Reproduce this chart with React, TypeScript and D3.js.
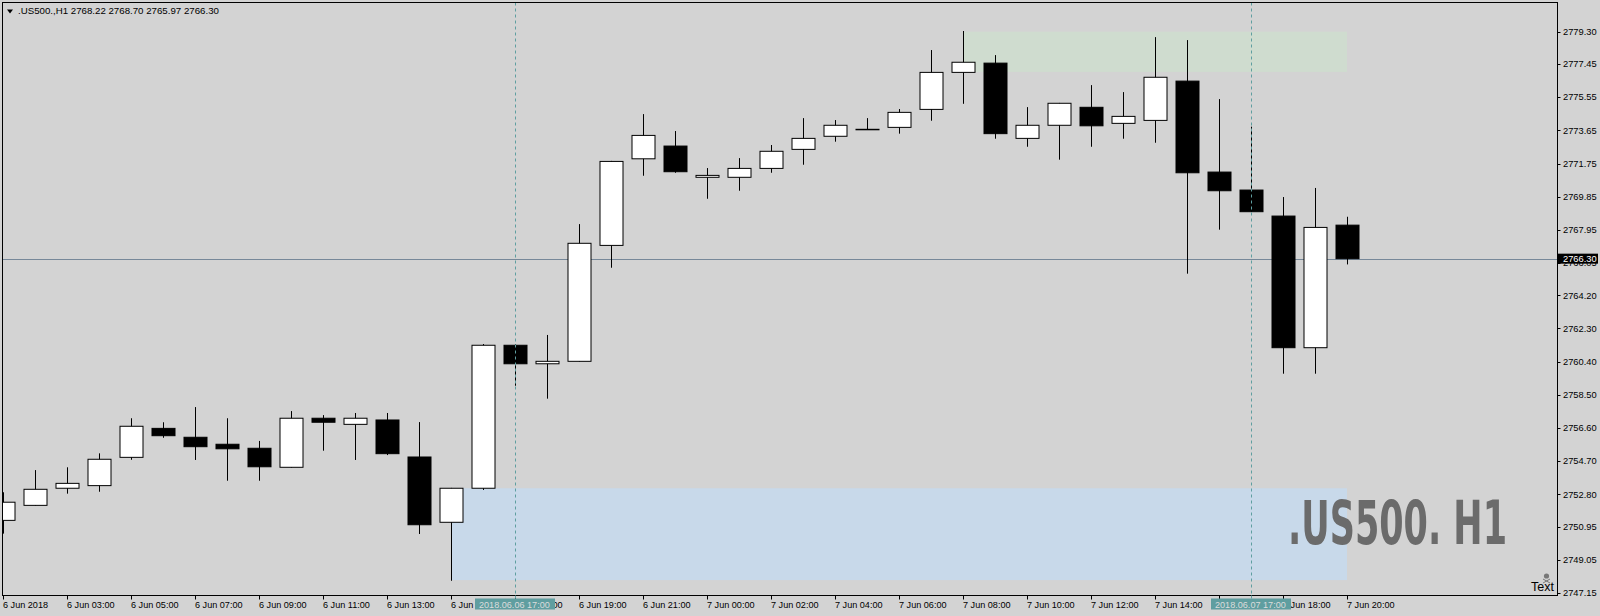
import React from "react";
import * as d3 from "d3";

const opens = [2751.31, 2752.17, 2753.15, 2753.30, 2754.92, 2756.58, 2756.07, 2755.67, 2755.44, 2754.35, 2757.16, 2756.81, 2757.06, 2754.94, 2751.20, 2753.15, 2761.34, 2760.28, 2760.42, 2767.06, 2772.02, 2772.75, 2770.96, 2770.96, 2771.47, 2772.56, 2773.31, 2773.71, 2773.82, 2774.85, 2776.97, 2777.50, 2773.19, 2773.94, 2774.97, 2774.05, 2774.22, 2776.47, 2771.26, 2770.23, 2768.74, 2761.20, 2768.22];
const highs = [2752.92, 2754.19, 2754.35, 2755.15, 2757.16, 2756.93, 2757.80, 2757.16, 2755.86, 2757.57, 2757.34, 2757.46, 2757.46, 2756.94, 2753.17, 2761.41, 2761.40, 2761.93, 2768.28, 2771.90, 2774.58, 2773.61, 2771.49, 2772.06, 2772.81, 2774.35, 2774.24, 2774.35, 2774.87, 2778.25, 2779.34, 2777.96, 2774.98, 2775.22, 2776.24, 2775.84, 2778.99, 2778.82, 2775.44, 2773.86, 2769.83, 2770.35, 2768.70];
const lows = [2750.55, 2752.15, 2752.84, 2752.95, 2754.78, 2756.04, 2754.77, 2753.58, 2753.58, 2754.33, 2755.30, 2754.77, 2755.05, 2750.53, 2747.85, 2753.05, 2759.02, 2758.28, 2760.40, 2765.78, 2771.05, 2771.22, 2769.73, 2770.19, 2771.22, 2771.68, 2773.00, 2773.69, 2773.46, 2774.20, 2775.17, 2773.17, 2772.71, 2771.97, 2772.71, 2773.17, 2772.94, 2765.44, 2767.96, 2768.97, 2759.71, 2759.71, 2765.97];
const closes = [2752.35, 2753.09, 2753.43, 2754.81, 2756.70, 2756.16, 2755.53, 2755.41, 2754.38, 2757.16, 2756.93, 2757.16, 2755.13, 2751.06, 2753.15, 2761.34, 2760.28, 2760.42, 2767.18, 2771.87, 2773.36, 2771.28, 2771.07, 2771.47, 2772.45, 2773.19, 2773.94, 2773.71, 2774.68, 2776.97, 2777.55, 2773.46, 2773.94, 2775.20, 2773.91, 2774.45, 2776.69, 2771.22, 2770.19, 2768.99, 2761.20, 2768.09, 2766.30];

const timeTickIndex = [0, 2, 4, 6, 8, 10, 12, 14, 16, 18, 20, 22, 24, 26, 28, 30, 32, 34, 36, 38, 40, 42];
const timeTickLabels = ["6 Jun 2018", "6 Jun 03:00", "6 Jun 05:00", "6 Jun 07:00", "6 Jun 09:00", "6 Jun 11:00", "6 Jun 13:00", "6 Jun 15:00", "6 Jun 17:00", "6 Jun 19:00", "6 Jun 21:00", "7 Jun 00:00", "7 Jun 02:00", "7 Jun 04:00", "7 Jun 06:00", "7 Jun 08:00", "7 Jun 10:00", "7 Jun 12:00", "7 Jun 14:00", "7 Jun 16:00", "7 Jun 18:00", "7 Jun 20:00"];
const priceTicks = [2779.30, 2777.45, 2775.55, 2773.65, 2771.75, 2769.85, 2767.95, 2766.05, 2764.20, 2762.30, 2760.40, 2758.50, 2756.60, 2754.70, 2752.80, 2750.95, 2749.05, 2747.15];

const markerIndex = [16, 39];
const markerLabels = ["2018.06.06 17:00", "2018.06.07 17:00"];
const lastPrice = 2766.30;
const titleText = ".US500.,H1  2768.22 2768.70 2765.97 2766.30";
const bigLabel = ".US500. H1";
// zones: [startIndex, endIndex, topPrice, bottomPrice]
const greenZone = [30, 42, 2779.30, 2777.00];
const blueZone = [14, 42, 2753.15, 2747.89];

const W = 1600, H = 616;
const L = 2.5, R = 1557.5, T = 2.5, B = 595.5;

export default function App() {
  const x = d3.scaleLinear().domain([0, 42]).range([3, 1347]);
  const y = d3.scaleLinear().domain([2747.15, 2779.30]).range([593, 31.7]);
  const font = "'Liberation Sans', Arial, sans-serif";
  const half = 11.5;

  return (
    <svg width={W} height={H} style={{ position: "absolute", left: 0, top: 0 }} fontFamily={font}>
      <defs>
        <clipPath id="plot">
          <rect x={L} y={T} width={R - L} height={B - T} />
        </clipPath>
      </defs>
      <rect x={0} y={0} width={W} height={H} fill="#d3d3d3" />
      <g clipPath="url(#plot)">
        <rect x={x(greenZone[0])} y={y(greenZone[2])} width={x(greenZone[1]) - x(greenZone[0])} height={y(greenZone[3]) - y(greenZone[2])} fill="#cfdccf" />
        <rect x={x(blueZone[0])} y={y(blueZone[2])} width={x(blueZone[1]) - x(blueZone[0])} height={y(blueZone[3]) - y(blueZone[2])} fill="#c8d9ea" />
        <text x={1288} y={544} fontFamily="'Liberation Sans Narrow', 'DejaVu Sans Condensed', 'Liberation Sans', sans-serif" fontWeight="bold" fontSize={60} fill="#6b6b6b" textLength={219} lengthAdjust="spacingAndGlyphs">{bigLabel}</text>
        <line x1={L} x2={R} y1={Math.round(y(lastPrice)) + 0.5} y2={Math.round(y(lastPrice)) + 0.5} stroke="#778899" strokeWidth={1} />
        {opens.map((o, i) => {
          const c = closes[i];
          const cx = Math.round(x(i)) + 0.5;
          const bull = c >= o;
          const top = y(Math.max(o, c));
          const bot = y(Math.min(o, c));
          return (
            <g key={i}>
              <line x1={cx} x2={cx} y1={y(highs[i])} y2={y(lows[i])} stroke="#000" strokeWidth={1} />
              <rect x={cx - half} y={top} width={half * 2} height={Math.max(bot - top, 0.5)} fill={bull ? "#fff" : "#000"} stroke="#000" strokeWidth={1} />
            </g>
          );
        })}
        {markerIndex.map((m, i) => (
          <line key={i} x1={Math.round(x(m)) + 0.5} x2={Math.round(x(m)) + 0.5} y1={T} y2={B} stroke="#5f9ea0" strokeWidth={1} strokeDasharray="3,3" />
        ))}
      </g>
      <rect x={L} y={T} width={R - L} height={B - T} fill="none" stroke="#000" strokeWidth={1} />
      {/* title */}
      <path d="M7,9.5 L13,9.5 L10,13.5 Z" fill="#000" />
      <text x={18} y={14} fontSize={9.7} fill="#000">{titleText}</text>
      {/* right axis */}
      {priceTicks.map((p, i) => (
        <g key={i}>
          <line x1={R} x2={R + 3} y1={Math.round(y(p)) + 0.5} y2={Math.round(y(p)) + 0.5} stroke="#000" />
          <text x={1563} y={y(p) + 3.3} fontSize={9.3} fill="#000">{p.toFixed(2)}</text>
        </g>
      ))}
      <rect x={1558} y={y(lastPrice) - 5} width={40} height={10} fill="#000" />
      <text x={1563} y={y(lastPrice) + 3.3} fontSize={9.3} fill="#fff">{lastPrice.toFixed(2)}</text>
      {/* bottom axis */}
      {timeTickIndex.map((k, i) => (
        <g key={i}>
          <line x1={Math.round(x(k)) + 0.5} x2={Math.round(x(k)) + 0.5} y1={B} y2={B + 4} stroke="#000" />
          <text x={Math.round(x(k))} y={607.5} fontSize={9.1} fill="#000">{timeTickLabels[i]}</text>
        </g>
      ))}
      {markerIndex.map((m, i) => (
        <g key={i}>
          <line x1={Math.round(x(m)) + 0.5} x2={Math.round(x(m)) + 0.5} y1={B} y2={B + 3} stroke="#5f9ea0" />
          <rect x={Math.round(x(m)) - 40} y={598.5} width={80} height={11} fill="#5f9ea0" />
          <text x={Math.round(x(m)) - 36} y={607.5} fontSize={9.1} fill="#dcdcdc">{markerLabels[i]}</text>
        </g>
      ))}
      {/* text object with icon */}
      <g fill="#777" stroke="none">
        <circle cx={1546.5} cy={576} r={2.6} />
        <line x1={1543} y1={579} x2={1550} y2={583} stroke="#777" strokeWidth={1} />
        <line x1={1550} y1={579} x2={1543} y2={583} stroke="#777" strokeWidth={1} />
      </g>
      <text x={1531} y={591} fontSize={12.5} fill="#000">Text</text>
    </svg>
  );
}
